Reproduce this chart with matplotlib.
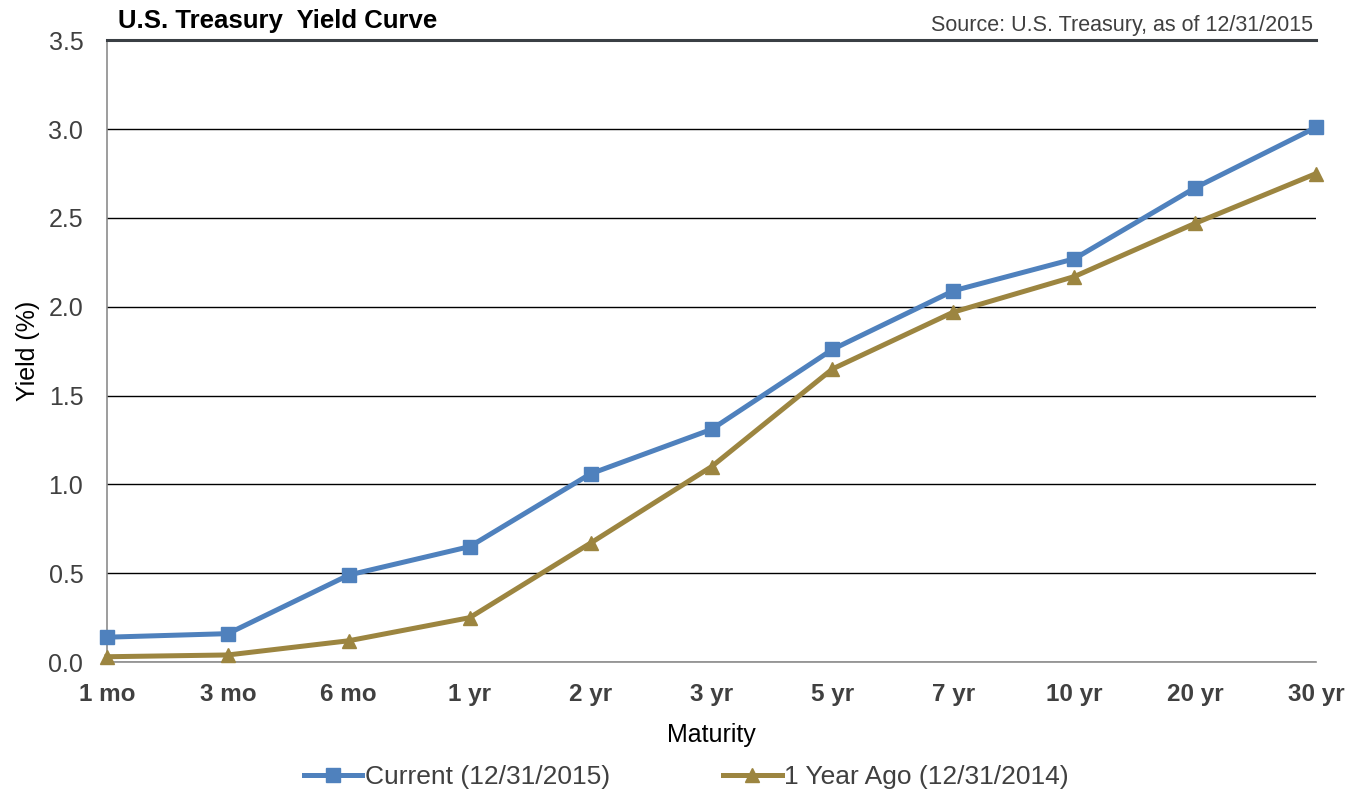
import numpy as np
import matplotlib.pyplot as plt
from matplotlib import font_manager

plt.rcParams['font.family'] = ['Liberation Sans', 'DejaVu Sans']

maturities = ["1 mo", "3 mo", "6 mo", "1 yr", "2 yr", "3 yr", "5 yr", "7 yr", "10 yr", "20 yr", "30 yr"]
current_2015 = [0.14, 0.16, 0.49, 0.65, 1.06, 1.31, 1.76, 2.09, 2.27, 2.67, 3.01]
year_ago_2014 = [0.03, 0.04, 0.12, 0.25, 0.67, 1.10, 1.65, 1.97, 2.17, 2.47, 2.75]

blue = "#4F81BD"
olive = "#9C8540"
text_color = "#404040"

# narrow face for the legend if it is available
narrow = "Liberation Sans Narrow"
try:
    font_manager.findfont(font_manager.FontProperties(family=narrow), fallback_to_default=False)
    legend_font = {"family": narrow, "size": 21}
except ValueError:
    legend_font = {"family": "Liberation Sans", "size": 19}

fig = plt.figure(figsize=(13.54, 7.91), dpi=100)
ax = fig.add_axes([0.079, 0.163, 0.893, 0.786])

x = np.arange(len(maturities))
ax.plot(x, current_2015, color=blue, lw=3.6, marker="s", markersize=9.5,
        label="Current (12/31/2015)", zorder=3, clip_on=False)
ax.plot(x, year_ago_2014, color=olive, lw=3.6, marker="^", markersize=9.5,
        label="1 Year Ago (12/31/2014)", zorder=3, clip_on=False)

ax.set_xlim(0, len(maturities) - 1)
ax.set_ylim(0, 3.5)
yticks = np.arange(0, 3.51, 0.5)
ax.set_yticks(yticks)
ax.set_yticklabels([f"{v:.1f}" for v in yticks], fontsize=18, color=text_color)
ax.set_xticks(x)
ax.set_xticklabels(maturities, fontsize=17.5, fontweight="bold", color=text_color)
ax.tick_params(axis="both", length=0)
ax.tick_params(axis="y", pad=17)
ax.tick_params(axis="x", pad=15)

ax.grid(axis="y", color="#000000", lw=1.0, zorder=0)
ax.spines["right"].set_visible(False)
ax.spines["top"].set_color("#3a3f44")
ax.spines["top"].set_linewidth(2.2)
ax.spines["left"].set_color("#8c8c8c")
ax.spines["bottom"].set_color("#8c8c8c")
ax.spines["left"].set_linewidth(1.2)
ax.spines["bottom"].set_linewidth(1.2)

ax.set_xlabel("Maturity", fontsize=18, color="#000000", labelpad=12)
ax.set_ylabel("Yield (%)", fontsize=18, color="#000000", labelpad=6)

fig.text(0.087, 0.965, "U.S. Treasury  Yield Curve", fontsize=18.5, fontweight="bold",
         ha="left", va="baseline")
fig.text(0.970, 0.961, "Source: U.S. Treasury, as of 12/31/2015", fontsize=15.5,
         color=text_color, ha="right", va="baseline")

fig.legend(loc="center", bbox_to_anchor=(0.507, 0.018), ncol=2, frameon=False,
           prop=legend_font, handlelength=2.2, columnspacing=4.3, handletextpad=0.1,
           labelcolor=text_color)

fig.savefig("out.png", dpi=100)
